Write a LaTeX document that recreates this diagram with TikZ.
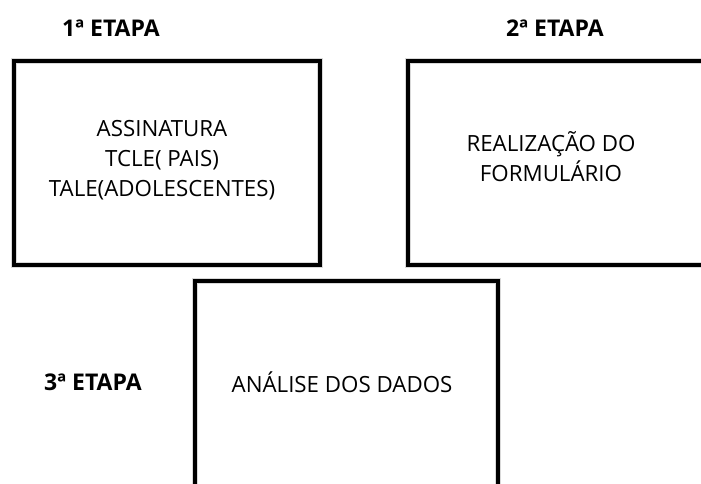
\documentclass[tikz,border=0pt]{standalone}
\usepackage{fontspec}
\setmainfont{Open Sans}
\usetikzlibrary{positioning}

\begin{document}
\begin{tikzpicture}[x=1pt,y=-1pt,
    etapa/.style={draw=black,line width=3.5pt,minimum height=204pt,
      preaction={draw=black!15,line width=6.5pt}},
    texto/.style={align=center,font=\fontsize{22.3}{30}\selectfont},
    titulo/.style={font=\bfseries\fontsize{23}{26}\selectfont}]
      \useasboundingbox (0,0) rectangle (701,483);
      \clip (0,0) rectangle (701,483);

      % etapas
      \node[titulo] (t1) at (111,28) {1ª ETAPA};
      \node[titulo] (t2) at (555,28) {2ª ETAPA};
      \node[titulo] (t3) at (93,382) {3ª ETAPA};

      % caixas
      \node[etapa,minimum width=306pt] (e1) at (167,163) {};
      \node[etapa,minimum width=300pt] (e2) at (558,163) {};
      \node[etapa,minimum width=303pt,minimum height=206pt] (e3) at (346.5,384) {};

      \node[texto] (x1) at (162,160) {ASSINATURA\\TCLE( PAIS)\\TALE(ADOLESCENTES)};
      \node[texto] (x2) at (551,157) {REALIZAÇÃO DO\\FORMULÁRIO};
      \node[texto] (x3) at (342,382) {ANÁLISE DOS DADOS};
    \end{tikzpicture}
\end{document}
